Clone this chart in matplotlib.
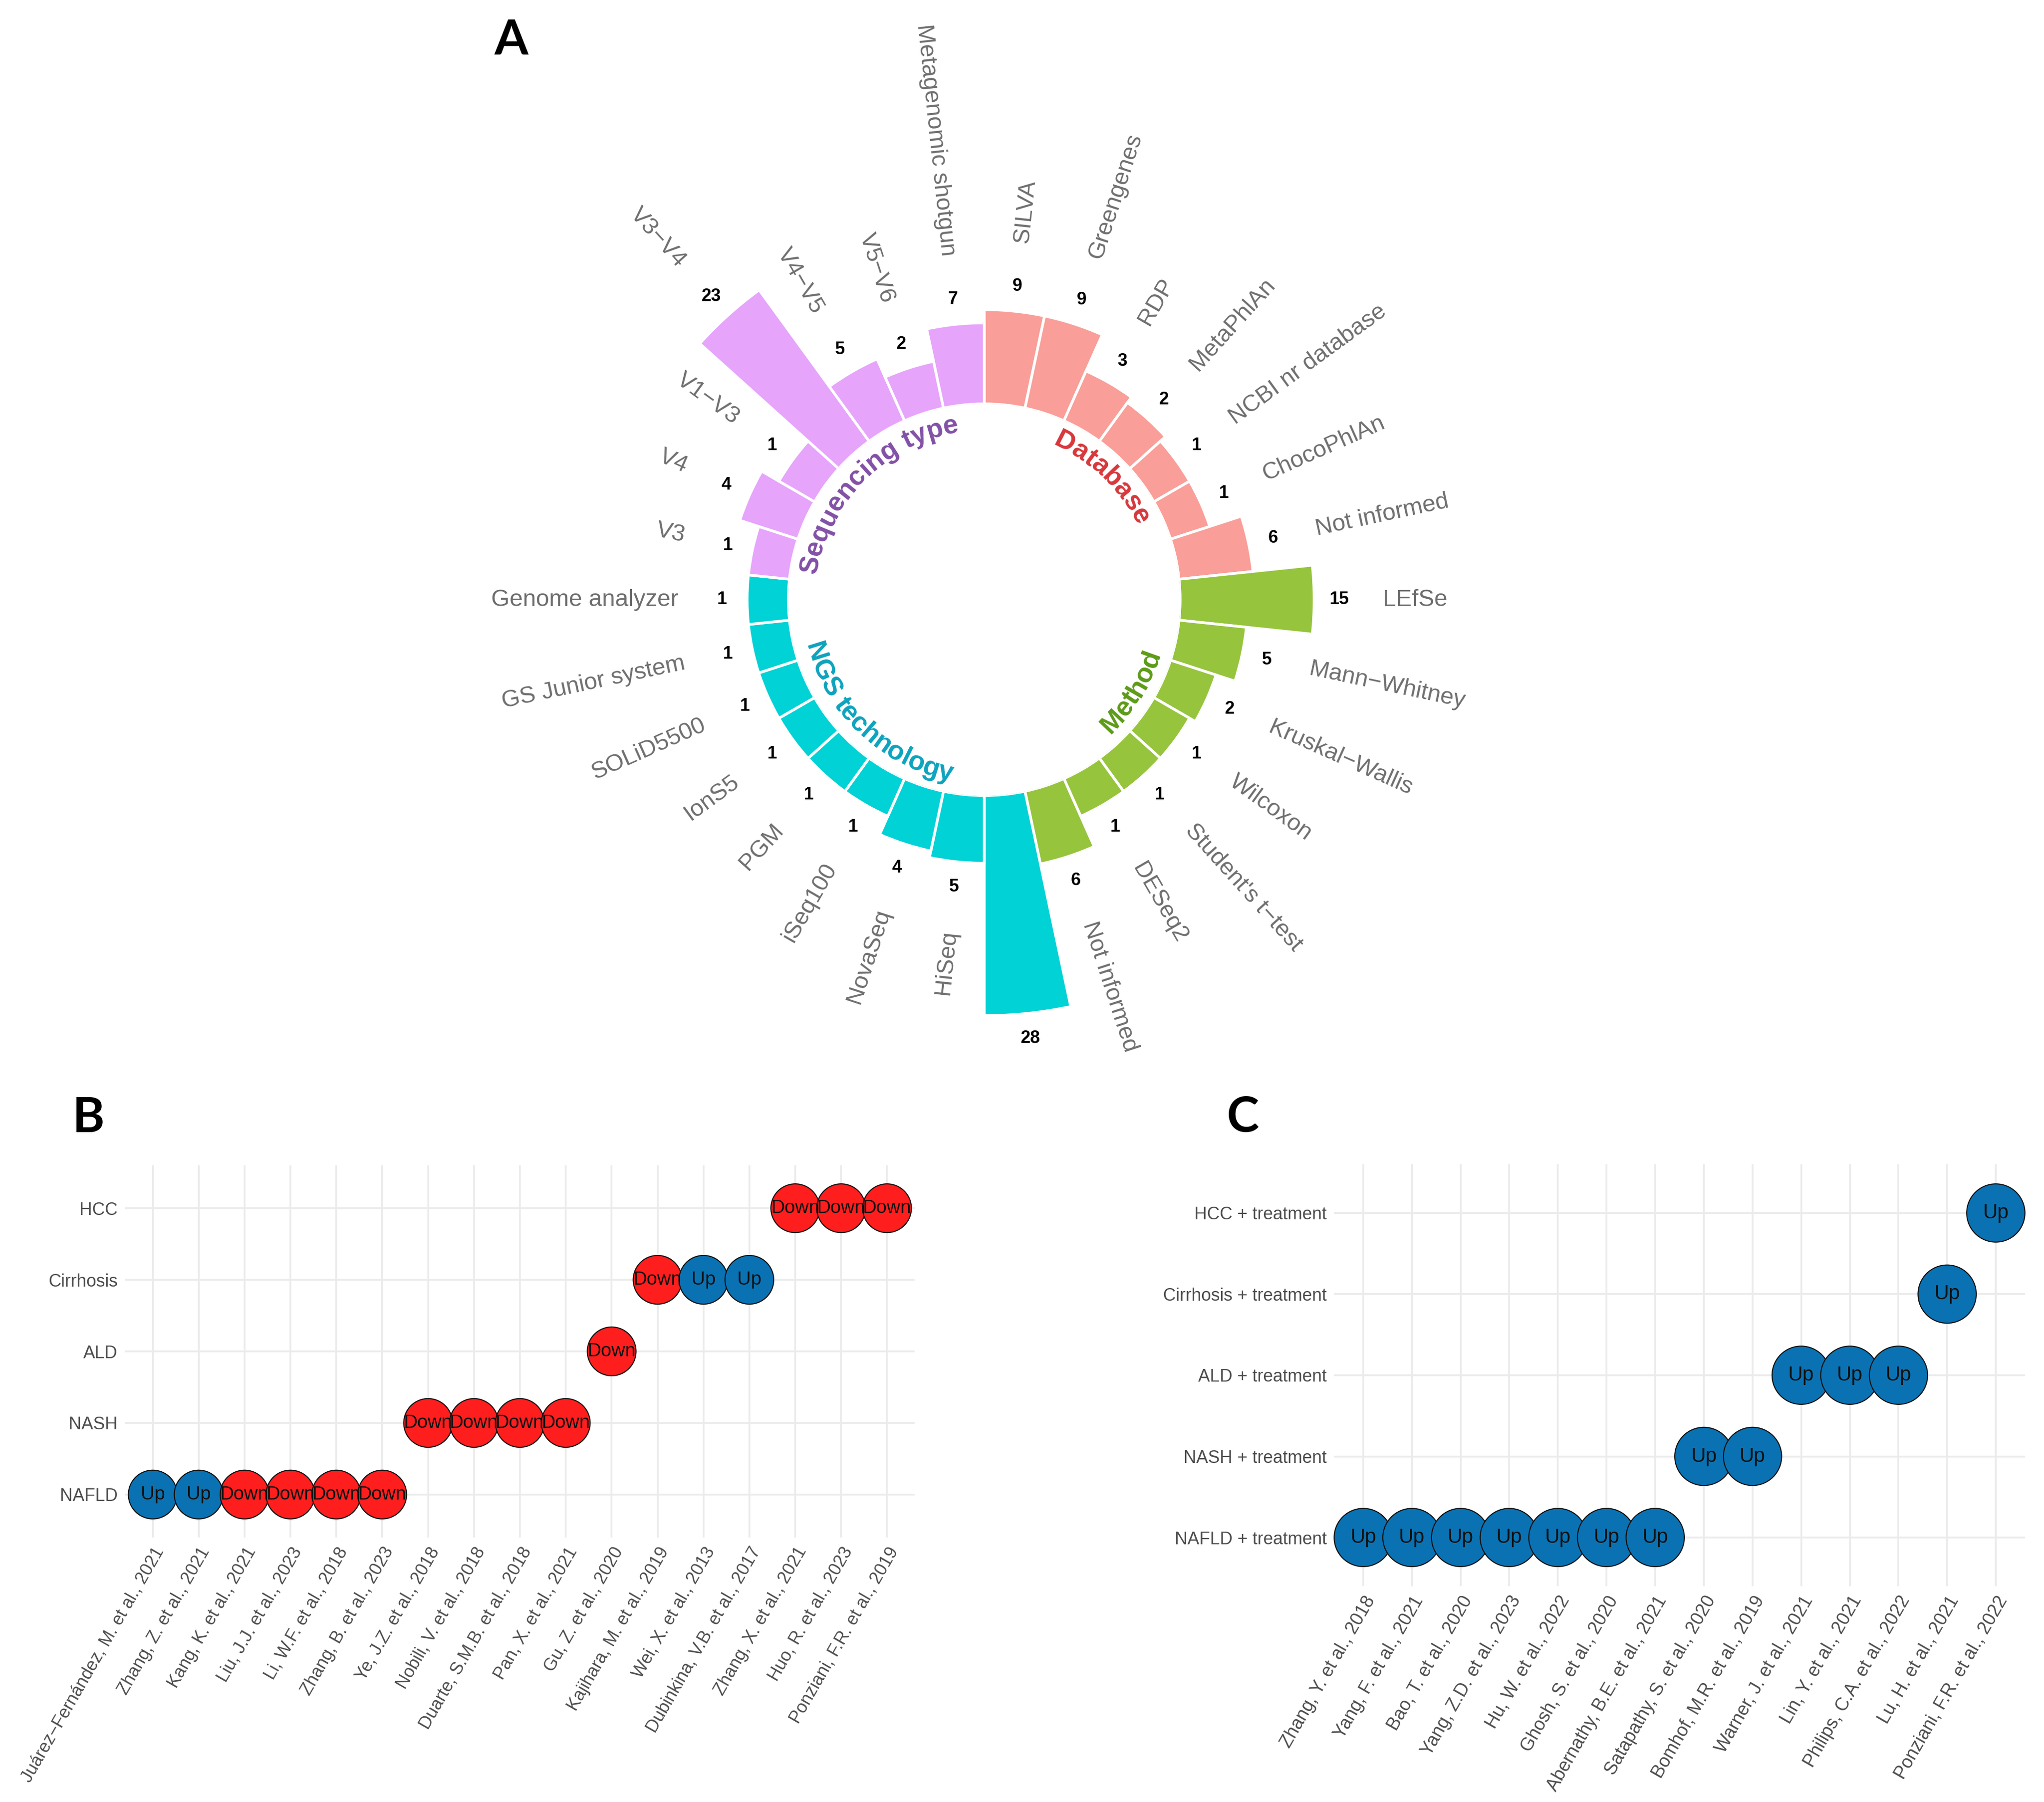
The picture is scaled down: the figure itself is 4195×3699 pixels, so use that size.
import numpy as np
import matplotlib
matplotlib.use('Agg')
import matplotlib.pyplot as plt
from matplotlib.textpath import TextToPath
from matplotlib.font_manager import FontProperties
from matplotlib.transforms import Bbox, TransformedBbox

plt.rcParams['font.family'] = ['Liberation Sans', 'DejaVu Sans']

W, H, DPI = 4195, 3699, 100
fig = plt.figure(figsize=(W / DPI, H / DPI), dpi=DPI)

# ---------------- Panel A data (clockwise from 12 o'clock) ----------------
db_names = ['SILVA', 'Greengenes', 'RDP', 'MetaPhlAn', 'NCBI nr database', 'ChocoPhlAn', 'Not informed']
db_vals = [9, 9, 3, 2, 1, 1, 6]
method_names = ['LEfSe', 'Mann−Whitney', 'Kruskal−Wallis', 'Wilcoxon', "Student's t−test", 'DESeq2', 'Not informed']
method_vals = [15, 5, 2, 1, 1, 1, 6]
ngs_names = ['Not informed', 'HiSeq', 'NovaSeq', 'iSeq100', 'PGM', 'IonS5', 'SOLiD5500',
             'GS Junior system', 'Genome analyzer']
ngs_vals = [28, 5, 4, 1, 1, 1, 1, 1, 1]
seq_names = ['V3', 'V4', 'V1−V3', 'V3−V4', 'V4−V5', 'V5−V6', 'Metagenomic shotgun']
seq_vals = [1, 4, 1, 23, 5, 2, 7]

groups = ['Database', 'Method', 'NGS technology', 'Sequencing type']
group_names = [db_names, method_names, ngs_names, seq_names]
group_vals = [db_vals, method_vals, ngs_vals, seq_vals]
bar_colors = {'Database': '#F99E98', 'Method': '#96C43D',
              'NGS technology': '#00D2D5', 'Sequencing type': '#E6A4FB'}
text_colors = {'Database': '#D8373A', 'Method': '#5C9B17',
               'NGS technology': '#0CA3BE', 'Sequencing type': '#8250A6'}
group_label_deg = {'Database': 44, 'Method': 122, 'NGS technology': 223, 'Sequencing type': 315}

names, vals, grp = [], [], []
for g, nm, vv in zip(groups, group_names, group_vals):
    names += nm
    vals += vv
    grp += [g] * len(nm)
vals = np.array(vals)
n = len(vals)
step = 2 * np.pi / n
theta = (np.arange(n) + 0.5) * step

# geometry in output pixels
cx, cy, R = 2020, 1231, 1231
ppu = 13.6            # pixels per unit
ro = -473 / ppu       # radial origin
rmax = ro + R / ppu
base = ro + 402 / ppu  # inner ring

axA = fig.add_axes([(cx - R) / W, 1 - (cy + R) / H, 2 * R / W, 2 * R / H], projection='polar')
axA.set_theta_zero_location('N')
axA.set_theta_direction(-1)
axA.set_ylim(base, rmax)
axA.set_rorigin(ro)
axA.bar(theta, vals - base, width=step, bottom=base,
        color=[bar_colors[g] for g in grp], edgecolor='white', linewidth=4)
axA.set_axis_off()

# panel A was cropped at the bottom in the composite figure
clipA = TransformedBbox(Bbox([[0, 1 - 2185 / H], [1, 1]]), fig.transFigure)

for th, name, v in zip(theta, names, vals):
    deg = np.degrees(th)
    if deg < 180:
        rot, ha = 90 - deg, 'left'
    else:
        rot, ha = 270 - deg, 'right'
    t = axA.text(th, v + 10.4, name, rotation=rot, rotation_mode='anchor',
                 ha=ha, va='center', fontsize=35, color='#6E6E6E')
    t.set_clip_box(clipA)
    t.set_clip_on(True)
    axA.text(th, v + 3.8, str(v), ha='center', va='center',
             fontsize=26, fontweight='bold', color='black')

# curved group labels
ttp = TextToPath()
fp = FontProperties(family='Liberation Sans', weight='bold', size=40)


def text_px(s):
    w, h, d = ttp.get_text_width_height_descent(s, fp, ismath=False)
    return w * DPI / 72.0


def curved_label(text, center_deg, r_px, color, flip):
    total = text_px(text)
    r_data = ro + r_px / ppu
    for i, ch in enumerate(text):
        if ch == ' ':
            continue
        pos = text_px(text[:i + 1]) - text_px(ch) / 2 - total / 2
        dth = np.degrees(pos / r_px)
        if flip:
            deg = center_deg - dth
            rot = 180 - deg
        else:
            deg = center_deg + dth
            rot = -deg
        axA.text(np.radians(deg), r_data, ch, rotation=rot, rotation_mode='anchor',
                 ha='center', va='baseline', fontproperties=fp, color=color)


for g in groups:
    c = group_label_deg[g]
    flip = 90 < c < 270
    curved_label(g, c, 378 if flip else 348, text_colors[g], flip)

# ---------------- Panel B data ----------------
studies_b = ['Juárez−Fernández, M. et al., 2021', 'Zhang, Z. et al., 2021', 'Kang, K. et al., 2021',
             'Liu, J.J. et al., 2023', 'Li, W.F. et al., 2018', 'Zhang, B. et al., 2023',
             'Ye, J.Z. et al., 2018', 'Nobili, V. et al., 2018', 'Duarte, S.M.B. et al., 2018',
             'Pan, X. et al., 2021', 'Gu, Z. et al., 2020', 'Kajihara, M. et al., 2019',
             'Wei, X. et al., 2013', 'Dubinkina, V.B. et al., 2017', 'Zhang, X. et al., 2021',
             'Huo, R. et al., 2023', 'Ponziani, F.R. et al., 2019']
disease_b = ['NAFLD'] * 6 + ['NASH'] * 4 + ['ALD'] + ['Cirrhosis'] * 3 + ['HCC'] * 3
direction_b = ['Up', 'Up', 'Down', 'Down', 'Down', 'Down',
               'Down', 'Down', 'Down', 'Down',
               'Down',
               'Down', 'Up', 'Up',
               'Down', 'Down', 'Down']
rows_b = ['NAFLD', 'NASH', 'ALD', 'Cirrhosis', 'HCC']

# ---------------- Panel C data ----------------
studies_c = ['Zhang, Y. et al., 2018', 'Yang, F. et al., 2021', 'Bao, T. et al., 2020',
             'Yang, Z.D. et al., 2023', 'Hu, W. et al., 2022', 'Ghosh, S. et al., 2020',
             'Abernathy, B.E. et al., 2021', 'Satapathy, S. et al., 2020', 'Bomhof, M.R. et al., 2019',
             'Warner, J. et al., 2021', 'Lin, Y. et al., 2021', 'Philips, C.A. et al., 2022',
             'Lu, H. et al., 2021', 'Ponziani, F.R. et al., 2022']
condition_c = (['NAFLD + treatment'] * 7 + ['NASH + treatment'] * 2 + ['ALD + treatment'] * 3
               + ['Cirrhosis + treatment'] + ['HCC + treatment'])
direction_c = ['Up'] * 14
rows_c = ['NAFLD + treatment', 'NASH + treatment', 'ALD + treatment',
          'Cirrhosis + treatment', 'HCC + treatment']

dir_colors = {'Up': '#0A72B3', 'Down': '#FF1E1E'}


def dot_panel(rect, studies, conds, dirs, rows, msize, xfs, yfs, dfs):
    ax = fig.add_axes(rect)
    x = np.arange(1, len(studies) + 1)
    y = [rows.index(c) + 1 for c in conds]
    ax.scatter(x, y, s=msize ** 2, c=[dir_colors[d] for d in dirs],
               edgecolors='#111111', linewidths=1.6, zorder=3, clip_on=False)
    for xi, yi, d in zip(x, y, dirs):
        ax.text(xi, yi, d, ha='center', va='center', fontsize=dfs, color='#111111', zorder=4)
    ax.set_xlim(0.4, len(studies) + 0.6)
    ax.set_ylim(0.4, len(rows) + 0.6)
    ax.set_xticks(x)
    ax.set_xticklabels(studies, rotation=60, ha='right', va='top', rotation_mode='anchor',
                       fontsize=xfs, color='#4D4D4D')
    ax.set_yticks(np.arange(1, len(rows) + 1))
    ax.set_yticklabels(rows, fontsize=yfs, color='#4D4D4D')
    ax.tick_params(length=0)
    ax.tick_params(axis='x', pad=10)
    ax.tick_params(axis='y', pad=11)
    ax.grid(True, color='#EBEBEB', linewidth=2.6)
    ax.set_axisbelow(True)
    for s in ax.spines.values():
        s.set_visible(False)
    return ax


dot_panel([257 / W, 1 - 3156 / H, 1620 / W, 764 / H], studies_b, disease_b, direction_b,
          rows_b, 72, 26, 26, 28)
dot_panel([2738 / W, 1 - 3256 / H, 1418 / W, 866 / H], studies_c, condition_c, direction_c,
          rows_c, 86, 27, 26, 30)

# panel letters
for lab, px, py in [('A', 1049, 83), ('B', 182, 2295), ('C', 2550, 2295)]:
    fig.text(px / W, 1 - py / H, lab, fontsize=72, fontweight='bold', family='Lato',
             ha='center', va='center', color='black')

fig.savefig('out.png', dpi=DPI, facecolor='white')
plt.close(fig)
